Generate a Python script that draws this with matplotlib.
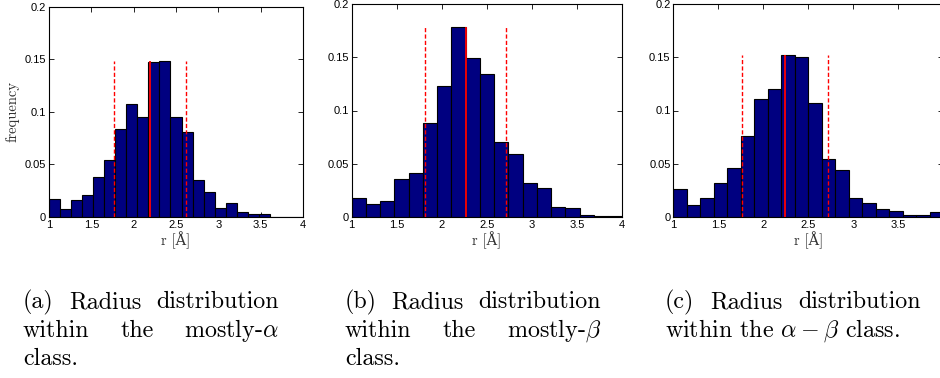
import numpy as np
import matplotlib
matplotlib.use("Agg")
import matplotlib.pyplot as plt

plt.rcParams['mathtext.fontset'] = 'cm'
plt.rcParams['axes.unicode_minus'] = False

# histogram range and bar heights (frequency) for the three classes
r_range = (1.0, 4.0)
freq_alpha = [0.0174, 0.0074, 0.0165, 0.021, 0.038, 0.054, 0.084, 0.107, 0.095,
              0.147, 0.148, 0.095, 0.081, 0.035, 0.024, 0.009, 0.013, 0.0045,
              0.003, 0.003, 0.0, 0.0, 0.0]
freq_beta = [0.0175, 0.012, 0.0147, 0.036, 0.0416, 0.0886, 0.123, 0.178, 0.149,
             0.134, 0.070, 0.059, 0.032, 0.027, 0.0094, 0.0081, 0.0016, 0.0005,
             0.0005]
freq_ab = [0.0266, 0.0116, 0.018, 0.032, 0.046, 0.076, 0.111, 0.120, 0.152,
           0.150, 0.107, 0.054, 0.044, 0.018, 0.0135, 0.0075, 0.006, 0.002,
           0.002, 0.0044]

# median (solid) and lower/upper quartile (dashed) radius
medians = [2.19, 2.264, 2.24]
lower_q = [1.767, 1.816, 1.763]
upper_q = [2.617, 2.711, 2.722]

yticks = [0, 0.05, 0.1, 0.15, 0.2]
ytick_labels = ['0', '0.05', '0.1', '0.15', '0.2']
xticks = [1, 1.5, 2, 2.5, 3, 3.5, 4]
xtick_labels = ['1', '1.5', '2', '2.5', '3', '3.5', '4']

captions = [
    [['(a)', 'Radius', 'distribution'], ['within', 'the', r'mostly-$\alpha$'], ['class.']],
    [['(b)', 'Radius', 'distribution'], ['within', 'the', r'mostly-$\beta$'], ['class.']],
    [['(c)', 'Radius', 'distribution'], [r'within the $\alpha-\beta$ class.']],
]

W, H = 940, 378
fig = plt.figure(figsize=(W / 100, H / 100), dpi=100)

# axes boxes in pixels: left, right, top, bottom
boxes = [(49, 303, 6.7, 217), (351.7, 622.3, 4, 217), (673.3, 943.3, 4, 217)]
cap_x = [(23, 279), (345, 601), (665, 921)]
cap_y = [302, 331, 359]

serif = ['cmr10', 'DejaVu Serif']
tick_font = 'Liberation Sans'
cap_size = 17.3

all_freq = [freq_alpha, freq_beta, freq_ab]
for i, freq in enumerate(all_freq):
    l, r, t, b = boxes[i]
    ax = fig.add_axes([l / W, 1 - b / H, (r - l) / W, (b - t) / H])
    edges = np.linspace(r_range[0], r_range[1], len(freq) + 1)
    ax.bar(edges[:-1], freq, width=np.diff(edges), align='edge',
           color='#000080', edgecolor='black', linewidth=0.8, zorder=2)
    top = max(freq)
    ax.vlines(medians[i], 0, top, color='red', linewidth=1.3, zorder=3)
    ax.vlines([lower_q[i], upper_q[i]], 0, top, color='red', linewidth=1.0,
              linestyles=(0, (3, 1.6)), zorder=3)
    ax.set_xlim(*r_range)
    ax.set_ylim(0, 0.2)
    ax.set_xticks(xticks)
    ax.set_xticklabels(xtick_labels, family=tick_font, fontsize=8)
    ax.set_yticks(yticks)
    ax.set_yticklabels(ytick_labels, family=tick_font, fontsize=8)
    ax.tick_params(direction='in', top=True, right=True, length=3.5, width=0.6, pad=2)
    for s in ax.spines.values():
        s.set_linewidth(0.8)
    ax.set_xlabel('r [Å]', family=serif, fontsize=10.5, labelpad=1, color='#333333')
    if i == 0:
        ax.set_ylabel('frequency', family=serif, fontsize=10.5, labelpad=4, color='#333333')

# captions (justified like the LaTeX subcaptions)
renderer = fig.canvas.get_renderer()
for i, lines in enumerate(captions):
    x0, x1 = cap_x[i]
    for j, words in enumerate(lines):
        y = 1 - cap_y[j] / H
        last = j == len(lines) - 1
        if last or len(words) == 1:
            fig.text(x0 / W, y, ' '.join(words), family=serif, fontsize=cap_size,
                     ha='left', va='center')
            continue
        txts = [fig.text(0, y, w, family=serif, fontsize=cap_size, ha='left', va='center')
                for w in words]
        widths = [tx.get_window_extent(renderer).width for tx in txts]
        gap = (x1 - x0 - sum(widths)) / (len(words) - 1)
        x = x0
        for tx, w in zip(txts, widths):
            tx.set_x(x / W)
            x += w + gap

fig.savefig('out.png', dpi=100)
